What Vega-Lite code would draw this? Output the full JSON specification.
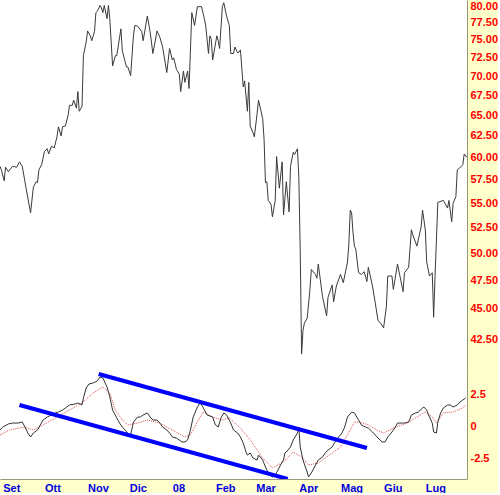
{
  "$schema": "https://vega.github.io/schema/vega-lite/v6.json",
  "padding": 0,
  "background": "#ffffcc",
  "spacing": 0,
  "config": {
    "view": {"stroke": null, "fill": "white"},
    "concat": {"spacing": 0},
    "axis": {"labelFont": "Liberation Sans", "labelFontWeight": "bold", "labelFontSize": 11, "grid": false, "ticks": false, "domainColor": "#999977", "domainWidth": 1, "title": null}
  },
  "datasets": {
    "price": [
      {"date": "2007-08-30", "close": 59.0}, {"date": "2007-08-31", "close": 58.6}, {"date": "2007-09-02", "close": 57.4},
      {"date": "2007-09-03", "close": 58.9}, {"date": "2007-09-05", "close": 58.4}, {"date": "2007-09-08", "close": 59.0},
      {"date": "2007-09-11", "close": 58.9}, {"date": "2007-09-13", "close": 59.5}, {"date": "2007-09-15", "close": 59.0},
      {"date": "2007-09-18", "close": 56.4}, {"date": "2007-09-21", "close": 54.0}, {"date": "2007-09-23", "close": 56.7},
      {"date": "2007-09-25", "close": 57.3}, {"date": "2007-09-26", "close": 57.2}, {"date": "2007-09-27", "close": 58.6},
      {"date": "2007-09-29", "close": 59.2}, {"date": "2007-10-01", "close": 60.7}, {"date": "2007-10-03", "close": 61.0},
      {"date": "2007-10-04", "close": 60.4}, {"date": "2007-10-06", "close": 61.3}, {"date": "2007-10-08", "close": 61.1},
      {"date": "2007-10-10", "close": 62.4}, {"date": "2007-10-11", "close": 63.6}, {"date": "2007-10-13", "close": 62.5},
      {"date": "2007-10-14", "close": 63.6}, {"date": "2007-10-16", "close": 63.7}, {"date": "2007-10-18", "close": 65.0},
      {"date": "2007-10-19", "close": 66.25}, {"date": "2007-10-21", "close": 66.25}, {"date": "2007-10-22", "close": 66.9},
      {"date": "2007-10-24", "close": 65.9}, {"date": "2007-10-25", "close": 68.0}, {"date": "2007-10-26", "close": 65.5},
      {"date": "2007-10-28", "close": 66.1}, {"date": "2007-10-29", "close": 72.8}, {"date": "2007-10-31", "close": 74.7},
      {"date": "2007-11-01", "close": 76.3}, {"date": "2007-11-03", "close": 75.6}, {"date": "2007-11-04", "close": 74.9},
      {"date": "2007-11-06", "close": 76.2}, {"date": "2007-11-07", "close": 79.0}, {"date": "2007-11-08", "close": 79.2},
      {"date": "2007-11-10", "close": 80.1}, {"date": "2007-11-11", "close": 79.7}, {"date": "2007-11-12", "close": 79.0},
      {"date": "2007-11-13", "close": 80.1}, {"date": "2007-11-15", "close": 78.1}, {"date": "2007-11-16", "close": 80.1},
      {"date": "2007-11-17", "close": 78.1}, {"date": "2007-11-19", "close": 71.4}, {"date": "2007-11-21", "close": 72.8},
      {"date": "2007-11-22", "close": 72.8}, {"date": "2007-11-25", "close": 76.6}, {"date": "2007-11-26", "close": 73.5},
      {"date": "2007-11-29", "close": 71.25}, {"date": "2007-11-30", "close": 71.25}, {"date": "2007-12-02", "close": 70.1},
      {"date": "2007-12-04", "close": 75.6}, {"date": "2007-12-05", "close": 77.1}, {"date": "2007-12-07", "close": 77.0},
      {"date": "2007-12-10", "close": 76.2}, {"date": "2007-12-11", "close": 74.9}, {"date": "2007-12-14", "close": 78.5},
      {"date": "2007-12-16", "close": 76.2}, {"date": "2007-12-18", "close": 73.1}, {"date": "2007-12-21", "close": 76.3},
      {"date": "2007-12-23", "close": 75.4}, {"date": "2007-12-25", "close": 74.0}, {"date": "2007-12-28", "close": 70.5},
      {"date": "2007-12-30", "close": 73.8}, {"date": "2008-01-01", "close": 72.2}, {"date": "2008-01-02", "close": 72.5},
      {"date": "2008-01-04", "close": 70.9}, {"date": "2008-01-06", "close": 70.3}, {"date": "2008-01-07", "close": 68.0},
      {"date": "2008-01-09", "close": 70.7}, {"date": "2008-01-10", "close": 69.2}, {"date": "2008-01-12", "close": 70.7},
      {"date": "2008-01-13", "close": 68.4}, {"date": "2008-01-15", "close": 79.0}, {"date": "2008-01-17", "close": 77.1},
      {"date": "2008-01-19", "close": 79.9}, {"date": "2008-01-22", "close": 79.9}, {"date": "2008-01-24", "close": 78.1},
      {"date": "2008-01-25", "close": 77.1}, {"date": "2008-01-27", "close": 73.1}, {"date": "2008-01-28", "close": 75.6},
      {"date": "2008-01-29", "close": 75.1}, {"date": "2008-01-30", "close": 72.2}, {"date": "2008-02-02", "close": 75.6},
      {"date": "2008-02-03", "close": 74.9}, {"date": "2008-02-04", "close": 73.8}, {"date": "2008-02-06", "close": 79.9},
      {"date": "2008-02-07", "close": 80.5}, {"date": "2008-02-09", "close": 78.5}, {"date": "2008-02-11", "close": 77.1},
      {"date": "2008-02-12", "close": 73.1}, {"date": "2008-02-14", "close": 73.1}, {"date": "2008-02-15", "close": 74.0},
      {"date": "2008-02-17", "close": 73.2}, {"date": "2008-02-18", "close": 73.3}, {"date": "2008-02-19", "close": 73.6},
      {"date": "2008-02-21", "close": 68.6}, {"date": "2008-02-22", "close": 69.4}, {"date": "2008-02-24", "close": 65.5},
      {"date": "2008-02-25", "close": 69.2}, {"date": "2008-02-26", "close": 63.7}, {"date": "2008-02-28", "close": 62.9},
      {"date": "2008-02-29", "close": 62.4}, {"date": "2008-03-02", "close": 65.25}, {"date": "2008-03-03", "close": 66.9},
      {"date": "2008-03-06", "close": 64.6}, {"date": "2008-03-07", "close": 62.1}, {"date": "2008-03-08", "close": 57.2},
      {"date": "2008-03-09", "close": 57.3}, {"date": "2008-03-10", "close": 55.3}, {"date": "2008-03-12", "close": 54.9},
      {"date": "2008-03-13", "close": 53.6}, {"date": "2008-03-15", "close": 55.3}, {"date": "2008-03-16", "close": 60.1},
      {"date": "2008-03-18", "close": 56.6}, {"date": "2008-03-20", "close": 59.5}, {"date": "2008-03-21", "close": 53.8},
      {"date": "2008-03-23", "close": 57.3}, {"date": "2008-03-25", "close": 54.1}, {"date": "2008-03-26", "close": 59.0},
      {"date": "2008-03-28", "close": 60.6}, {"date": "2008-03-29", "close": 60.35}, {"date": "2008-03-31", "close": 61.0},
      {"date": "2008-04-01", "close": 57.8}, {"date": "2008-04-02", "close": 50.4}, {"date": "2008-04-03", "close": 41.3},
      {"date": "2008-04-04", "close": 43.2}, {"date": "2008-04-05", "close": 43.8}, {"date": "2008-04-07", "close": 44.2},
      {"date": "2008-04-09", "close": 46.7}, {"date": "2008-04-10", "close": 48.5}, {"date": "2008-04-13", "close": 48.05},
      {"date": "2008-04-14", "close": 47.7}, {"date": "2008-04-15", "close": 49.0}, {"date": "2008-04-18", "close": 46.1},
      {"date": "2008-04-21", "close": 44.4}, {"date": "2008-04-22", "close": 46.0}, {"date": "2008-04-25", "close": 47.1},
      {"date": "2008-04-26", "close": 45.6}, {"date": "2008-04-28", "close": 47.0}, {"date": "2008-05-01", "close": 48.05},
      {"date": "2008-05-03", "close": 47.3}, {"date": "2008-05-06", "close": 49.2}, {"date": "2008-05-07", "close": 50.9},
      {"date": "2008-05-08", "close": 54.3}, {"date": "2008-05-09", "close": 54.0}, {"date": "2008-05-10", "close": 52.0},
      {"date": "2008-05-11", "close": 50.7}, {"date": "2008-05-12", "close": 50.4}, {"date": "2008-05-14", "close": 48.2},
      {"date": "2008-05-16", "close": 48.05}, {"date": "2008-05-18", "close": 48.3}, {"date": "2008-05-20", "close": 47.4},
      {"date": "2008-05-21", "close": 48.7}, {"date": "2008-05-24", "close": 47.0}, {"date": "2008-05-26", "close": 45.5},
      {"date": "2008-05-28", "close": 44.0}, {"date": "2008-05-30", "close": 43.8}, {"date": "2008-06-01", "close": 43.4},
      {"date": "2008-06-03", "close": 45.2}, {"date": "2008-06-04", "close": 47.9}, {"date": "2008-06-07", "close": 47.9},
      {"date": "2008-06-08", "close": 46.7}, {"date": "2008-06-11", "close": 49.0}, {"date": "2008-06-15", "close": 46.5},
      {"date": "2008-06-16", "close": 48.2}, {"date": "2008-06-19", "close": 48.7}, {"date": "2008-06-21", "close": 52.3},
      {"date": "2008-06-22", "close": 51.8}, {"date": "2008-06-25", "close": 50.7}, {"date": "2008-06-28", "close": 52.6},
      {"date": "2008-06-29", "close": 54.3}, {"date": "2008-07-01", "close": 52.3}, {"date": "2008-07-02", "close": 49.2},
      {"date": "2008-07-04", "close": 47.9}, {"date": "2008-07-06", "close": 48.2}, {"date": "2008-07-07", "close": 44.3},
      {"date": "2008-07-08", "close": 47.9}, {"date": "2008-07-09", "close": 51.3}, {"date": "2008-07-10", "close": 55.1},
      {"date": "2008-07-14", "close": 55.3}, {"date": "2008-07-17", "close": 54.5}, {"date": "2008-07-18", "close": 55.3},
      {"date": "2008-07-20", "close": 53.1}, {"date": "2008-07-21", "close": 55.0}, {"date": "2008-07-23", "close": 55.7},
      {"date": "2008-07-24", "close": 58.6}, {"date": "2008-07-27", "close": 59.0}, {"date": "2008-07-28", "close": 59.2},
      {"date": "2008-07-29", "close": 60.4}, {"date": "2008-07-31", "close": 60.0}
    ],
    "osc": [
      {"date": "2007-08-30", "value": -0.31}, {"date": "2007-09-01", "value": -0.08}, {"date": "2007-09-05", "value": 0.16},
      {"date": "2007-09-08", "value": 0.23}, {"date": "2007-09-12", "value": 0.23}, {"date": "2007-09-15", "value": 0.31},
      {"date": "2007-09-17", "value": -0.08}, {"date": "2007-09-19", "value": -0.55}, {"date": "2007-09-21", "value": -0.86},
      {"date": "2007-09-23", "value": -0.55}, {"date": "2007-09-26", "value": -0.31}, {"date": "2007-09-28", "value": 0.08},
      {"date": "2007-09-30", "value": 0.47}, {"date": "2007-10-03", "value": 0.70}, {"date": "2007-10-06", "value": 0.86},
      {"date": "2007-10-09", "value": 1.02}, {"date": "2007-10-11", "value": 1.09}, {"date": "2007-10-14", "value": 1.25},
      {"date": "2007-10-17", "value": 1.48}, {"date": "2007-10-19", "value": 1.64}, {"date": "2007-10-23", "value": 1.72},
      {"date": "2007-10-25", "value": 1.80}, {"date": "2007-10-28", "value": 1.64}, {"date": "2007-10-29", "value": 2.19},
      {"date": "2007-10-31", "value": 2.97}, {"date": "2007-11-02", "value": 3.28}, {"date": "2007-11-05", "value": 3.36},
      {"date": "2007-11-08", "value": 3.52}, {"date": "2007-11-10", "value": 3.83}, {"date": "2007-11-12", "value": 3.75},
      {"date": "2007-11-15", "value": 3.05}, {"date": "2007-11-17", "value": 2.27}, {"date": "2007-11-19", "value": 1.25},
      {"date": "2007-11-22", "value": 0.63}, {"date": "2007-11-24", "value": 0.23}, {"date": "2007-11-26", "value": -0.08},
      {"date": "2007-11-30", "value": -0.55}, {"date": "2007-12-02", "value": -0.70}, {"date": "2007-12-04", "value": 0.31},
      {"date": "2007-12-07", "value": 0.70}, {"date": "2007-12-09", "value": 0.70}, {"date": "2007-12-11", "value": 0.86},
      {"date": "2007-12-14", "value": 1.02}, {"date": "2007-12-16", "value": 0.70}, {"date": "2007-12-18", "value": 0.47},
      {"date": "2007-12-21", "value": 0.47}, {"date": "2007-12-23", "value": 0.23}, {"date": "2007-12-25", "value": -0.08},
      {"date": "2007-12-28", "value": -0.31}, {"date": "2007-12-30", "value": -0.55}, {"date": "2008-01-01", "value": -0.86},
      {"date": "2008-01-04", "value": -0.94}, {"date": "2008-01-08", "value": -1.25}, {"date": "2008-01-10", "value": -1.25},
      {"date": "2008-01-12", "value": -1.09}, {"date": "2008-01-14", "value": -0.31}, {"date": "2008-01-16", "value": 0.70},
      {"date": "2008-01-19", "value": 1.48}, {"date": "2008-01-21", "value": 1.80}, {"date": "2008-01-23", "value": 1.48},
      {"date": "2008-01-26", "value": 0.86}, {"date": "2008-01-30", "value": 0.70}, {"date": "2008-02-01", "value": 0.08},
      {"date": "2008-02-03", "value": -0.08}, {"date": "2008-02-05", "value": 0.63}, {"date": "2008-02-07", "value": 1.02},
      {"date": "2008-02-09", "value": 0.86}, {"date": "2008-02-12", "value": 0.23}, {"date": "2008-02-14", "value": -0.31},
      {"date": "2008-02-17", "value": -0.55}, {"date": "2008-02-19", "value": -0.86}, {"date": "2008-02-21", "value": -1.33},
      {"date": "2008-02-23", "value": -2.03}, {"date": "2008-02-24", "value": -2.27}, {"date": "2008-02-26", "value": -2.11},
      {"date": "2008-02-28", "value": -2.50}, {"date": "2008-03-02", "value": -2.66}, {"date": "2008-03-03", "value": -2.27},
      {"date": "2008-03-06", "value": -2.66}, {"date": "2008-03-08", "value": -3.20}, {"date": "2008-03-10", "value": -3.67},
      {"date": "2008-03-13", "value": -3.98}, {"date": "2008-03-15", "value": -3.83}, {"date": "2008-03-17", "value": -3.44},
      {"date": "2008-03-20", "value": -2.81}, {"date": "2008-03-21", "value": -2.66}, {"date": "2008-03-22", "value": -2.11},
      {"date": "2008-03-23", "value": -2.03}, {"date": "2008-03-26", "value": -1.64}, {"date": "2008-03-28", "value": -1.09},
      {"date": "2008-03-31", "value": -0.55}, {"date": "2008-04-01", "value": -0.08}, {"date": "2008-04-02", "value": -1.64},
      {"date": "2008-04-04", "value": -2.66}, {"date": "2008-04-07", "value": -3.59}, {"date": "2008-04-08", "value": -3.98},
      {"date": "2008-04-10", "value": -3.67}, {"date": "2008-04-13", "value": -3.05}, {"date": "2008-04-15", "value": -2.66},
      {"date": "2008-04-18", "value": -2.42}, {"date": "2008-04-20", "value": -2.11}, {"date": "2008-04-22", "value": -1.88},
      {"date": "2008-04-25", "value": -1.64}, {"date": "2008-04-27", "value": -1.25}, {"date": "2008-04-29", "value": -0.94},
      {"date": "2008-05-02", "value": -0.55}, {"date": "2008-05-04", "value": -0.08}, {"date": "2008-05-06", "value": 0.70},
      {"date": "2008-05-09", "value": 1.09}, {"date": "2008-05-11", "value": 1.02}, {"date": "2008-05-14", "value": 0.47},
      {"date": "2008-05-16", "value": 0.08}, {"date": "2008-05-19", "value": -0.08}, {"date": "2008-05-21", "value": -0.16},
      {"date": "2008-05-24", "value": -0.47}, {"date": "2008-05-26", "value": -0.70}, {"date": "2008-05-28", "value": -0.94},
      {"date": "2008-05-31", "value": -1.25}, {"date": "2008-06-02", "value": -1.25}, {"date": "2008-06-04", "value": -0.86},
      {"date": "2008-06-07", "value": -0.47}, {"date": "2008-06-09", "value": -0.16}, {"date": "2008-06-11", "value": 0.23},
      {"date": "2008-06-14", "value": 0.23}, {"date": "2008-06-16", "value": 0.23}, {"date": "2008-06-19", "value": 0.31},
      {"date": "2008-06-21", "value": 0.86}, {"date": "2008-06-24", "value": 1.02}, {"date": "2008-06-26", "value": 1.09},
      {"date": "2008-06-29", "value": 1.41}, {"date": "2008-06-30", "value": 1.48}, {"date": "2008-07-02", "value": 1.25},
      {"date": "2008-07-04", "value": 0.70}, {"date": "2008-07-06", "value": 0.23}, {"date": "2008-07-07", "value": -0.47},
      {"date": "2008-07-09", "value": -0.55}, {"date": "2008-07-10", "value": 0.31}, {"date": "2008-07-12", "value": 1.02},
      {"date": "2008-07-14", "value": 1.41}, {"date": "2008-07-17", "value": 1.64}, {"date": "2008-07-19", "value": 1.64},
      {"date": "2008-07-21", "value": 1.48}, {"date": "2008-07-24", "value": 1.64}, {"date": "2008-07-26", "value": 1.88},
      {"date": "2008-07-28", "value": 2.03}, {"date": "2008-07-30", "value": 2.19}
    ],
    "signal": [
      {"date": "2007-08-30", "value": -0.70}, {"date": "2007-09-06", "value": -0.31}, {"date": "2007-09-16", "value": -0.08},
      {"date": "2007-09-23", "value": -0.31}, {"date": "2007-09-30", "value": 0.08}, {"date": "2007-10-10", "value": 0.70},
      {"date": "2007-10-19", "value": 1.25}, {"date": "2007-10-28", "value": 1.80}, {"date": "2007-11-05", "value": 2.58},
      {"date": "2007-11-12", "value": 3.05}, {"date": "2007-11-17", "value": 2.58}, {"date": "2007-11-21", "value": 1.25},
      {"date": "2007-11-26", "value": 0.47}, {"date": "2007-11-30", "value": 0.08}, {"date": "2007-12-07", "value": 0.23},
      {"date": "2007-12-14", "value": 0.47}, {"date": "2007-12-23", "value": 0.23}, {"date": "2008-01-01", "value": -0.31},
      {"date": "2008-01-10", "value": -0.86}, {"date": "2008-01-14", "value": -0.70}, {"date": "2008-01-19", "value": 0.31},
      {"date": "2008-01-23", "value": 1.09}, {"date": "2008-01-30", "value": 0.70}, {"date": "2008-02-06", "value": 0.47},
      {"date": "2008-02-11", "value": 0.63}, {"date": "2008-02-19", "value": -0.16}, {"date": "2008-02-26", "value": -1.09},
      {"date": "2008-03-06", "value": -2.50}, {"date": "2008-03-13", "value": -3.28}, {"date": "2008-03-21", "value": -2.81},
      {"date": "2008-03-28", "value": -2.03}, {"date": "2008-04-03", "value": -2.42}, {"date": "2008-04-08", "value": -3.05},
      {"date": "2008-04-15", "value": -2.89}, {"date": "2008-04-23", "value": -2.27}, {"date": "2008-05-01", "value": -1.64},
      {"date": "2008-05-08", "value": -0.31}, {"date": "2008-05-11", "value": 0.31}, {"date": "2008-05-15", "value": 0.31},
      {"date": "2008-05-21", "value": 0.08}, {"date": "2008-05-27", "value": -0.31}, {"date": "2008-06-01", "value": -0.55},
      {"date": "2008-06-08", "value": -0.16}, {"date": "2008-06-18", "value": 0.23}, {"date": "2008-06-25", "value": 0.70},
      {"date": "2008-07-01", "value": 1.09}, {"date": "2008-07-06", "value": 0.70}, {"date": "2008-07-09", "value": 0.23},
      {"date": "2008-07-14", "value": 1.02}, {"date": "2008-07-21", "value": 1.09}, {"date": "2008-07-28", "value": 1.41},
      {"date": "2008-07-30", "value": 1.64}
    ],
    "trend": [
      {"line": "lower", "date": "2007-09-13", "value": 1.64},
      {"line": "lower", "date": "2008-03-24", "value": -4.14},
      {"line": "upper", "date": "2007-11-09", "value": 4.06},
      {"line": "upper", "date": "2008-05-20", "value": -1.72}
    ]
  },
  "vconcat": [
    {
      "width": 467,
      "height": 370,
      "data": {"name": "price"},
      "mark": {"type": "line", "color": "#3a3a3a", "strokeWidth": 1, "clip": true},
      "encoding": {
        "x": {"field": "date", "type": "temporal", "scale": {"type": "utc", "domain": [{"year": 2007, "month": "aug", "date": 30, "utc": true}, {"year": 2008, "month": "jul", "date": 31, "utc": true}]}, "axis": null},
        "y": {"field": "close", "type": "quantitative", "scale": {"type": "log", "domain": [40.07, 80.92], "nice": false, "zero": false},
          "axis": {"orient": "right", "values": [42.5, 45, 47.5, 50, 52.5, 55, 57.5, 60, 62.5, 65, 67.5, 70, 72.5, 75, 77.5, 80], "format": ".2f", "labelColor": "#ff0000", "labelPadding": 3}}
      }
    },
    {
      "width": 467,
      "height": 109,
      "encoding": {
        "x": {"field": "date", "type": "temporal", "scale": {"type": "utc", "domain": [{"year": 2007, "month": "aug", "date": 30, "utc": true}, {"year": 2008, "month": "jul", "date": 31, "utc": true}]},
          "axis": {"orient": "bottom", "tickCount": {"interval": "month", "step": 1}, "labelAlign": "left", "labelColor": "#0000e0", "labelPadding": 3, "labelOverlap": false, "labelFlush": false,
            "labelExpr": "utcmonth(datum.value) == 0 ? '08' : ['Gen','Feb','Mar','Apr','Mag','Giu','Lug','Ago','Set','Ott','Nov','Dic'][utcmonth(datum.value)]"}},
        "y": {"field": "value", "type": "quantitative", "scale": {"domain": [-4.14, 4.375], "nice": false, "zero": false},
          "axis": {"orient": "right", "values": [-2.5, 0, 2.5], "labelColor": "#ff0000", "labelPadding": 3,
            "labelExpr": "datum.value == 0 ? '0' : (datum.value < 0 ? '-2.5' : '2.5')"}}
      },
      "layer": [
        {"mark": {"type": "rule", "color": "#c07070", "strokeWidth": 1}, "encoding": {"y": {"datum": 0}}},
        {"data": {"name": "signal"}, "mark": {"type": "line", "color": "#e05050", "strokeWidth": 1, "strokeDash": [1, 1], "clip": true}},
        {"data": {"name": "osc"}, "mark": {"type": "line", "color": "#333333", "strokeWidth": 1, "clip": true}},
        {"data": {"name": "trend"}, "mark": {"type": "line", "color": "#0000ff", "strokeWidth": 4, "strokeCap": "butt", "clip": true}, "encoding": {"detail": {"field": "line"}}}
      ]
    }
  ]
}
